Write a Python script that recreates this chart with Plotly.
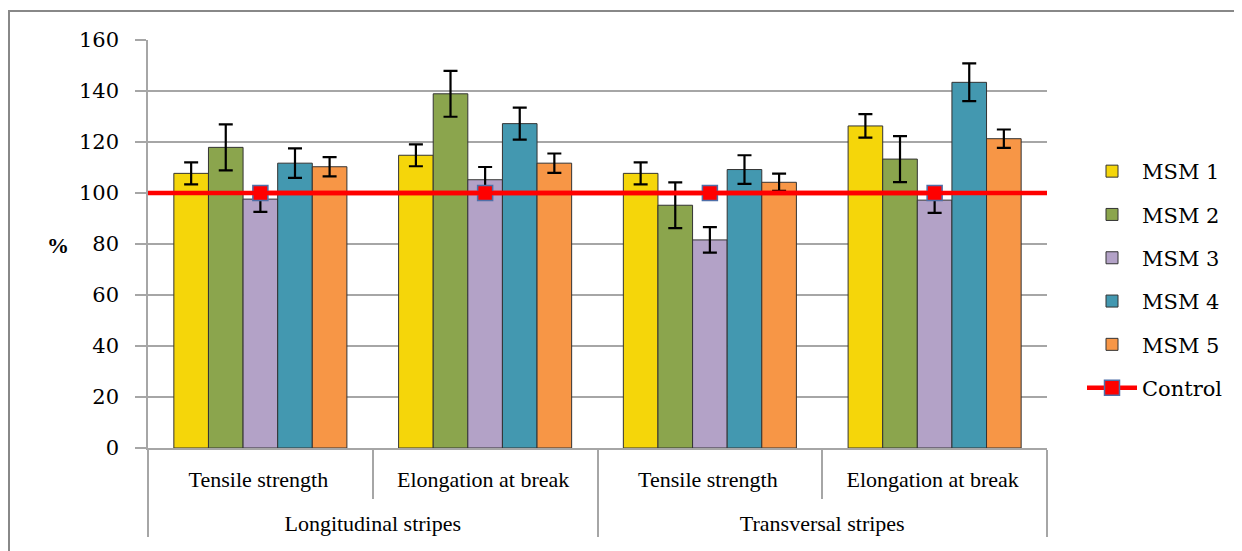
import plotly.graph_objects as go

# ---- data ----
groups = ["Longitudinal stripes", "Longitudinal stripes", "Transversal stripes", "Transversal stripes"]
properties = ["Tensile strength", "Elongation at break", "Tensile strength", "Elongation at break"]
series_names = ["MSM 1", "MSM 2", "MSM 3", "MSM 4", "MSM 5"]
msm1 = [107.7, 114.8, 107.7, 126.3]
msm2 = [117.9, 138.9, 95.2, 113.3]
msm3 = [97.6, 105.2, 81.6, 97.2]
msm4 = [111.7, 127.2, 109.2, 143.4]
msm5 = [110.3, 111.7, 104.2, 121.3]
msm1_err = [4.3, 4.3, 4.3, 4.6]
msm2_err = [9.0, 9.0, 9.0, 9.0]
msm3_err = [5.0, 5.0, 5.0, 5.0]
msm4_err = [5.8, 6.3, 5.6, 7.4]
msm5_err = [3.8, 3.8, 3.4, 3.6]
control = [100, 100, 100, 100]
y_ticks = [0, 20, 40, 60, 80, 100, 120, 140, 160]

colors = ["#F5D60A", "#8BA54D", "#B3A2C7", "#4398B0", "#F79646"]
values = [msm1, msm2, msm3, msm4, msm5]
errors = [msm1_err, msm2_err, msm3_err, msm4_err, msm5_err]

FONT_X = "Liberation Serif"
FONT_Y = "DejaVu Serif"
# thin spacer with a larger font to push the outer label row lower
spacer = "<span style='font-size:48px'>\u200a</span>"
x = [groups, [p + spacer for p in properties]]

OFF = 8
L, T, R, B = 148, 40, 1047, 448
W, H = 1242 - OFF, 551 - OFF
PW, PH = R - L, B - T

fig = go.Figure()
for i, (name, vals, errs) in enumerate(zip(series_names, values, errors)):
    fig.add_trace(go.Bar(
        x=x, y=vals, name=name, legendgroup=name,
        marker=dict(color=colors[i], line=dict(color="#333333", width=1)),
        error_y=dict(type="data", array=errs, visible=True, color="black",
                     thickness=2.2, width=7),
    ))

fig.add_trace(go.Scatter(
    x=x, y=control, name="Control", legendgroup="Control",
    mode="lines+markers",
    line=dict(color="#FF0000", width=4.5),
    marker=dict(symbol="square", size=15, color="#FF0000",
                line=dict(color="#4F6FA8", width=1.5)),
))

fig.add_shape(type="line", xref="paper", yref="y", x0=0, x1=1,
              y0=control[0], y1=control[0],
              line=dict(color="#FF0000", width=4.5), layer="above")

fig.add_shape(type="rect", xref="paper", yref="paper",
              x0=(9 - L) / PW, x1=(1270 - L) / PW,
              y0=(B - 580) / PH, y1=(B - 11) / PH,
              line=dict(color="#888888", width=2), fillcolor="rgba(0,0,0,0)",
              layer="below")

fig.add_annotation(text="<b>%</b>", xref="paper", yref="paper",
                   x=(58 - L) / PW, y=(B - 245) / PH, xanchor="center", yanchor="middle",
                   showarrow=False, font=dict(family=FONT_X, size=22, color="black"))

fig.update_layout(
    width=W, height=H,
    margin=dict(l=L - OFF, r=W + OFF - R, t=T - OFF, b=H + OFF - B),
    paper_bgcolor="white", plot_bgcolor="white",
    barmode="group", bargap=0.23, bargroupgap=0,
    font=dict(family=FONT_Y, size=21, color="black"),
    showlegend=True,
    legend=dict(x=(1082 - L) / PW, y=(B - 151) / PH, xanchor="left", yanchor="top",
                traceorder="grouped", tracegroupgap=13,
                font=dict(family=FONT_Y, size=21, color="black"),
                bgcolor="rgba(0,0,0,0)", itemwidth=50),
)
fig.update_yaxes(range=[0, 160], tickvals=y_ticks, showgrid=True,
                 gridcolor="#A6A6A6", gridwidth=1.5,
                 showline=True, linecolor="#A6A6A6", linewidth=1.5,
                 ticks="outside", ticklen=11, tickcolor="#A6A6A6", tickwidth=1.5,
                 ticklabelstandoff=12, zeroline=False,
                 tickfont=dict(family=FONT_Y, size=21, color="black"))
fig.update_xaxes(type="multicategory", showline=True, linecolor="#A6A6A6", linewidth=1.5,
                 ticks="outside", tickson="boundaries", ticklen=49,
                 tickcolor="#A6A6A6", tickwidth=1.5, ticklabelstandoff=11,
                 showdividers=True, dividercolor="#A6A6A6", dividerwidth=1.5,
                 tickfont=dict(family=FONT_X, size=22, color="black"))

fig.write_html("out.html")
